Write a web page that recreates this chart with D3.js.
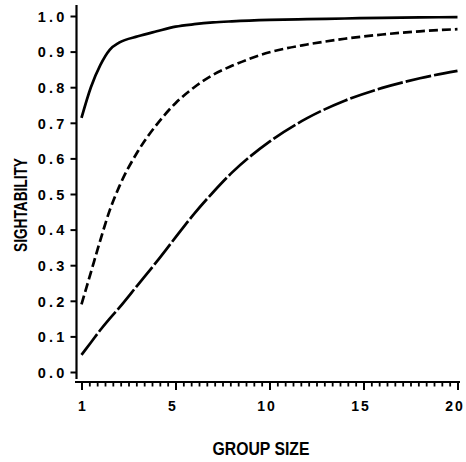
<!DOCTYPE html>
<html>
<head>
<meta charset="utf-8">
<script src="https://cdn.jsdelivr.net/npm/d3@7"></script>
<style>
  html, body { margin: 0; padding: 0; background: #fff; }
  svg { display: block; }
  .lbl { font-family: "Liberation Sans", Arial, sans-serif; font-weight: bold; fill: #000; }
</style>
</head>
<body>
<svg id="chart" width="466" height="462"></svg>
<script>
// ---- data (x in axis units; first major tick is labelled "1") ----
const xs = [0, 0.5, 1, 1.5, 2, 3, 4, 5, 6, 7, 8, 10, 12, 14, 16, 18, 20];
const solidSeries     = [0.714, 0.800, 0.862, 0.905, 0.925, 0.943, 0.957, 0.970, 0.977, 0.982, 0.985, 0.989, 0.991, 0.993, 0.995, 0.996, 0.997];
const shortDashSeries = [0.190, 0.280, 0.370, 0.454, 0.520, 0.620, 0.695, 0.755, 0.800, 0.835, 0.860, 0.898, 0.920, 0.936, 0.948, 0.957, 0.963];
const longDashSeries  = [0.048, 0.083, 0.118, 0.150, 0.180, 0.245, 0.310, 0.378, 0.445, 0.505, 0.560, 0.647, 0.713, 0.762, 0.798, 0.825, 0.846];
const xTickValues = [0, 5, 10, 15, 20];
const xTickLabels = ["1", "5", "10", "15", "20"];
const yTickValues = [0, 0.1, 0.2, 0.3, 0.4, 0.5, 0.6, 0.7, 0.8, 0.9, 1.0];
const xTitle = "GROUP SIZE";
const yTitle = "SIGHTABILITY";

const svg = d3.select("#chart");
const x = d3.scaleLinear().domain([0, 20]).range([81.5, 457.5]);
const y = d3.scaleLinear().domain([0, 1]).range([372, 16]);

// y axis
const yAxisG = svg.append("g").attr("transform", "translate(76.5,0)")
  .call(d3.axisLeft(y).tickValues(yTickValues).tickSize(6).tickPadding(6)
    .tickFormat(d3.format(".1f")));
yAxisG.select(".domain").remove();
yAxisG.selectAll(".tick line").attr("stroke", "#000").attr("stroke-width", 2);
yAxisG.selectAll(".tick text").attr("class", "lbl")
  .attr("font-size", 14.5).attr("letter-spacing", "3.2px").attr("x", -9).attr("dy", "0.36em");
svg.append("line").attr("x1", 76.5).attr("x2", 76.5).attr("y1", 5).attr("y2", 379)
  .attr("stroke", "#000").attr("stroke-width", 2.2);

// x axis
const xBase = 382;
svg.append("line").attr("x1", 75).attr("x2", 460).attr("y1", xBase).attr("y2", xBase)
  .attr("stroke", "#000").attr("stroke-width", 2.2);
const minorTicks = d3.range(0, 20.001, 5 / 12).filter(v => !xTickValues.some(t => Math.abs(t - v) < 1e-6));
const xMinorG = svg.append("g").attr("transform", `translate(0,${xBase})`)
  .call(d3.axisBottom(x).tickValues(minorTicks).tickSize(4.5).tickFormat(""));
xMinorG.select(".domain").remove();
xMinorG.selectAll(".tick line").attr("stroke", "#000").attr("stroke-width", 1.8);
const xAxisG = svg.append("g").attr("transform", `translate(0,${xBase})`)
  .call(d3.axisBottom(x).tickValues(xTickValues).tickSize(8).tickPadding(17)
    .tickFormat((d, i) => xTickLabels[i]));
xAxisG.select(".domain").remove();
xAxisG.selectAll(".tick line").attr("stroke", "#000").attr("stroke-width", 2);
xAxisG.selectAll(".tick text").attr("class", "lbl").attr("font-size", 14)
  .attr("letter-spacing", "2px").attr("dy", "0.25em")
  .attr("dx", (d, i) => i === 0 ? 1 : -3);

// titles
svg.append("text").attr("class", "lbl").attr("x", 261).attr("y", 455)
  .attr("text-anchor", "middle").attr("font-size", 18)
  .attr("textLength", 97).attr("lengthAdjust", "spacingAndGlyphs").text(xTitle);
svg.append("text").attr("class", "lbl")
  .attr("transform", "translate(27,205) rotate(-90)")
  .attr("text-anchor", "middle").attr("font-size", 19)
  .attr("textLength", 94).attr("lengthAdjust", "spacingAndGlyphs").text(yTitle);

// curves
const line = d3.line().x((d, i) => x(xs[i])).y(d => y(d)).curve(d3.curveMonotoneX);
const series = [
  { values: solidSeries, dash: null },
  { values: shortDashSeries, dash: "9,4" },
  { values: longDashSeries, dash: "26,3" }
];
svg.append("g").selectAll("path").data(series).join("path")
  .attr("d", s => line(s.values))
  .attr("fill", "none").attr("stroke", "#000").attr("stroke-width", 2.7)
  .attr("stroke-dasharray", s => s.dash);
</script>
</body>
</html>
